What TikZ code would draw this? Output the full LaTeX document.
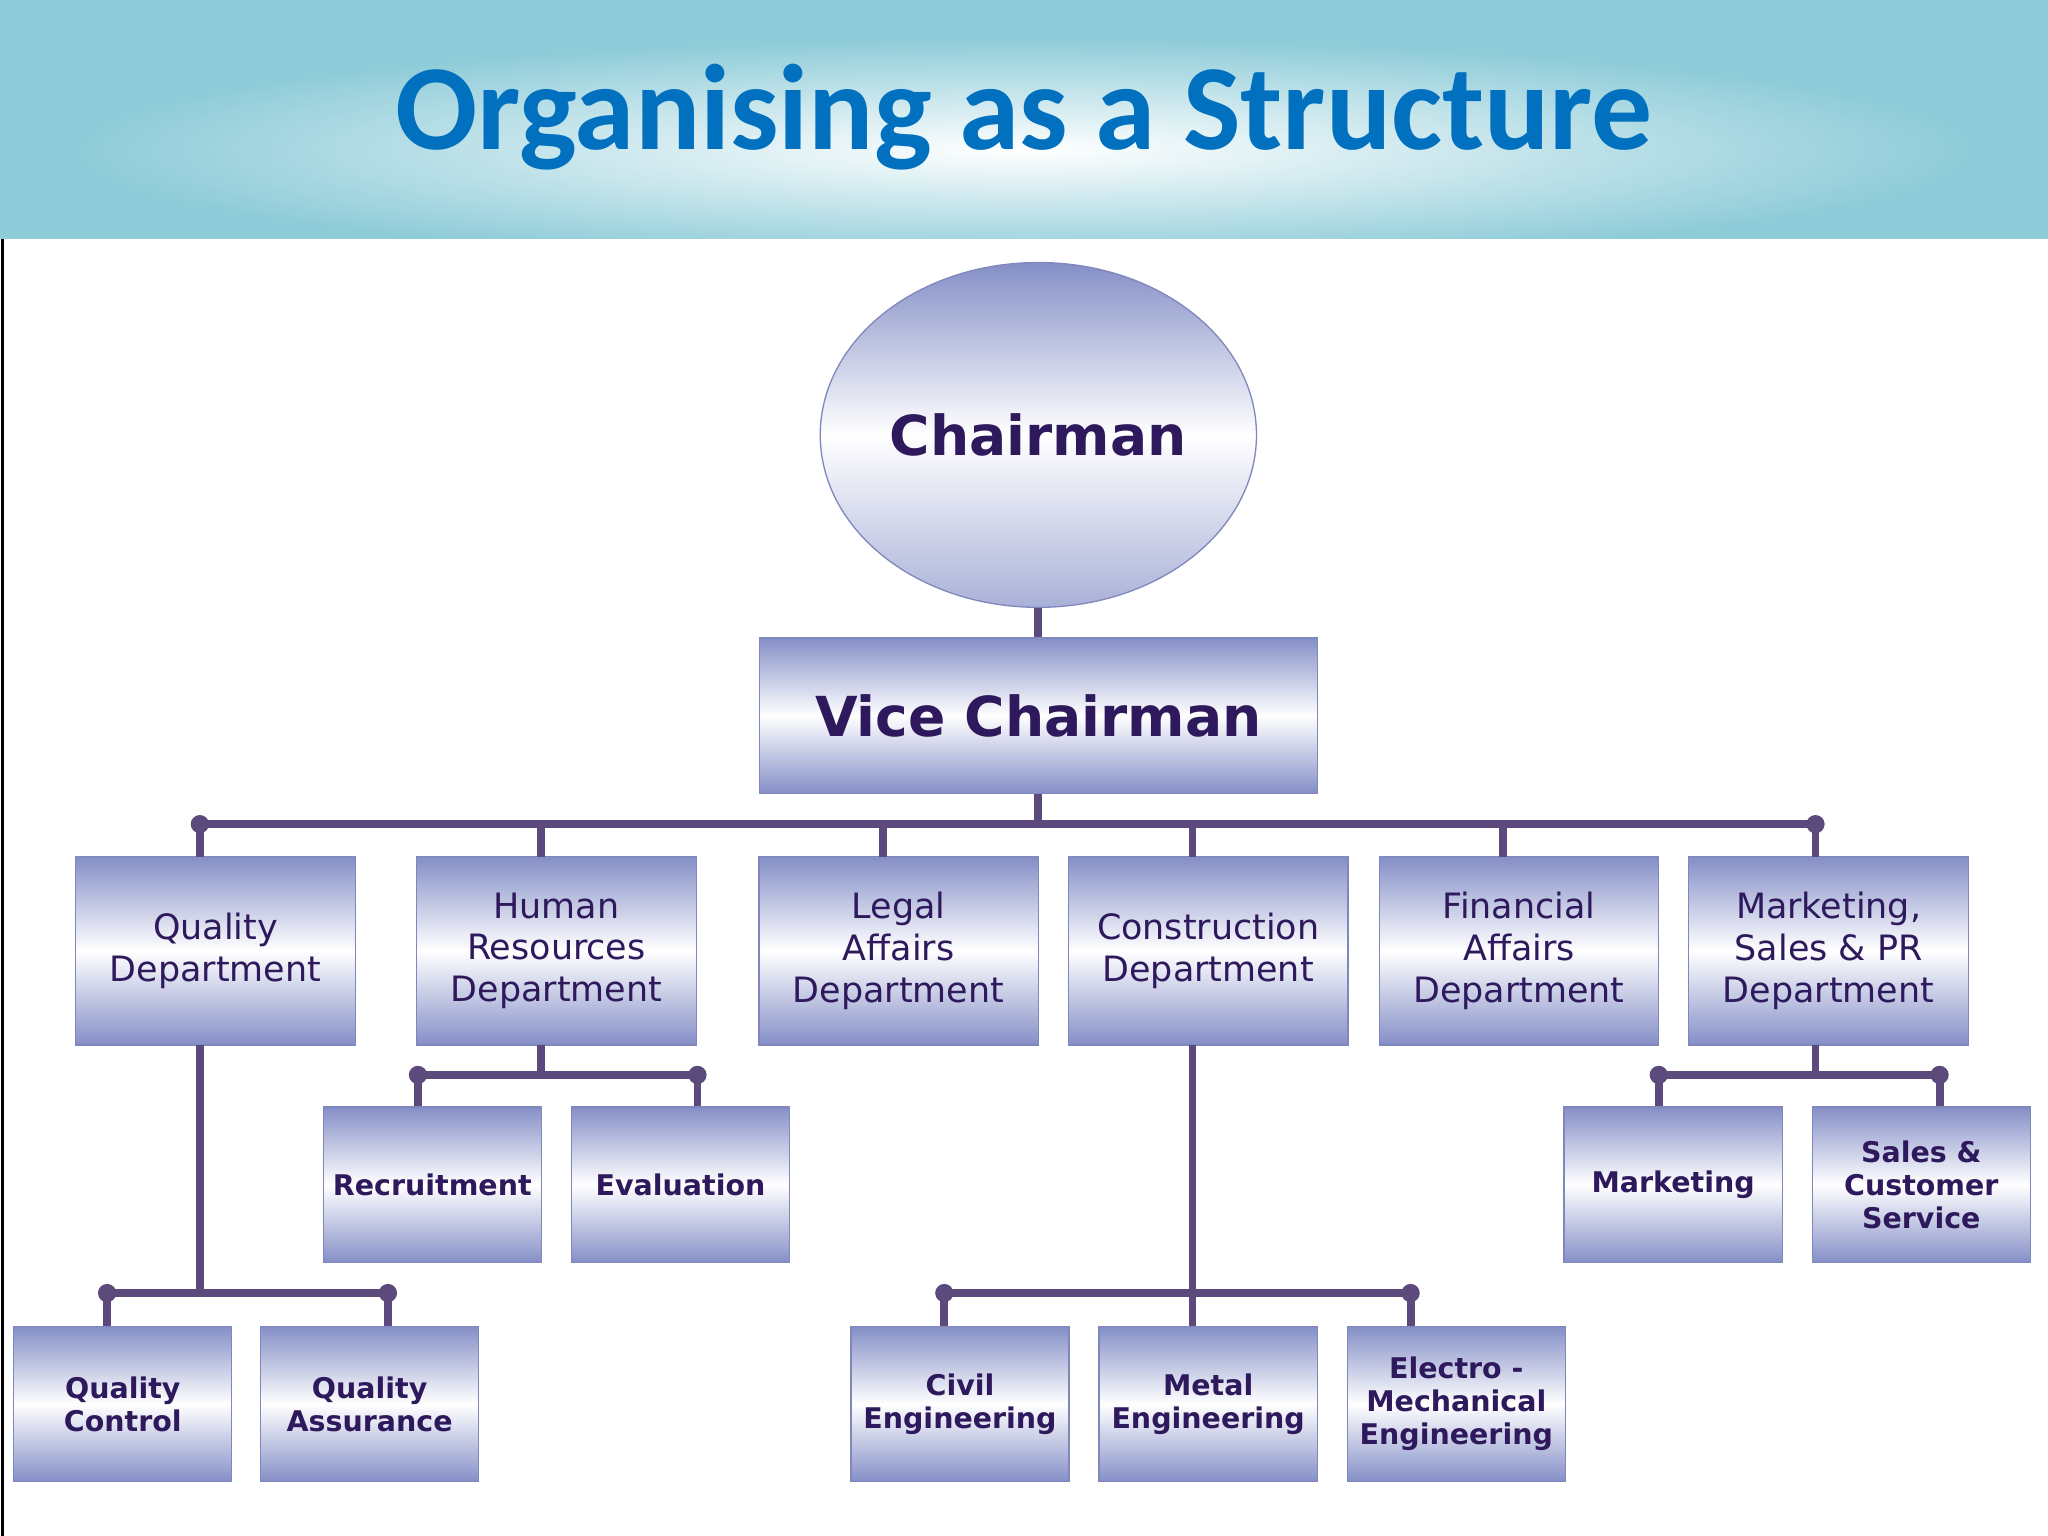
\documentclass[tikz,border=0pt]{standalone}
\usepackage{fontspec}
\setmainfont{DejaVu Sans}
\newfontfamily\titlefont{Carlito}
\usetikzlibrary{shapes.geometric}
\definecolor{linecol}{rgb}{0.36,0.29,0.49}
\definecolor{boxedge}{rgb}{0.50,0.53,0.74}
\definecolor{boxdark}{rgb}{0.52,0.56,0.78}
\definecolor{textcol}{rgb}{0.18,0.10,0.36}
\definecolor{titlecol}{rgb}{0.00,0.44,0.75}
\definecolor{bandcol}{rgb}{0.56,0.80,0.85}
\newlength{\du}
\setlength{\du}{0.01cm}
\tikzset{
  orgbox/.style={draw=boxedge, line width=1\du, top color=boxdark, bottom color=boxdark,
    middle color=white, shading angle=0, text=textcol, align=center, inner sep=0pt},
  deptbox/.style={orgbox, minimum width=214\du, minimum height=144\du, font=\fontsize{7.6}{9.1}\selectfont},
  subbox/.style={orgbox, minimum width=167\du, minimum height=119\du, font=\bfseries\fontsize{6.2}{7.2}\selectfont},
  link/.style={draw=linecol, line width=6\du},
  dot/.style={circle, fill=linecol, inner sep=0pt, minimum size=14\du}
}
\begin{document}
\begin{tikzpicture}[yscale=-1]
\useasboundingbox (0,0) rectangle (1568\du,1176\du);
% header band
\fill[bandcol] (0,0) rectangle (1568\du,183\du);
\shade[inner color=white, outer color=bandcol] (60\du,30\du) rectangle (1508\du,200\du);
\fill[white] (0,183\du) rectangle (1568\du,1176\du);
\draw[black, line width=2\du] (2\du,183\du) -- (2\du,1176\du);
\node[text=titlecol, font=\titlefont\bfseries\fontsize{26.5}{30}\selectfont] (title) at (784\du,90\du) {Organising as a Structure};
% top of the tree
\node[ellipse, draw=boxedge, line width=1\du, top color=boxdark, bottom color=boxdark!70, middle color=white,
  inner sep=0pt, minimum width=334\du, minimum height=264\du, text=textcol, font=\bfseries\fontsize{12}{14}\selectfont] (chair) at (795\du,333\du) {Chairman};
\node[orgbox, minimum width=427\du, minimum height=119\du, font=\bfseries\fontsize{12}{14}\selectfont] (vice) at (795\du,548\du) {Vice Chairman};
% departments
\node[deptbox] (qual) at (165\du,728\du) {Quality\\Department};
\node[deptbox] (hr) at (426\du,728\du) {Human\\Resources\\Department};
\node[deptbox] (legal) at (688\du,728\du) {Legal\\Affairs\\Department};
\node[deptbox] (constr) at (925\du,728\du) {Construction\\Department};
\node[deptbox] (fin) at (1163\du,728\du) {Financial\\Affairs\\Department};
\node[deptbox] (mkt) at (1400\du,728\du) {Marketing,\\Sales \& PR\\Department};
% sub units
\node[subbox] (recr) at (331\du,907\du) {Recruitment};
\node[subbox] (eval) at (521\du,907\du) {Evaluation};
\node[subbox] (mark) at (1281\du,907\du) {Marketing};
\node[subbox] (sales) at (1471\du,907\du) {Sales \&\\Customer\\Service};
\node[subbox] (qc) at (94\du,1075\du) {Quality\\Control};
\node[subbox] (qa) at (283\du,1075\du) {Quality\\Assurance};
\node[subbox] (civil) at (735\du,1075\du) {Civil\\Engineering};
\node[subbox] (metal) at (925\du,1075\du) {Metal\\Engineering};
\node[subbox] (electro) at (1115\du,1075\du) {Electro -\\Mechanical\\Engineering};
% bus ends
\coordinate (busL) at (153\du,631\du);
\coordinate (busR) at (1390\du,631\du);
\coordinate (hrL) at (320\du,823\du);
\coordinate (hrR) at (534\du,823\du);
\coordinate (mkL) at (1270\du,823\du);
\coordinate (mkR) at (1485\du,823\du);
\coordinate (qL) at (82\du,990\du);
\coordinate (qR) at (297\du,990\du);
\coordinate (cL) at (723\du,990\du);
\coordinate (cR) at (1080\du,990\du);
% connectors
\draw[link] (chair.south) -- (vice.north);
\draw[link] (vice.south) -- (vice.south |- busL);
\draw[link] (busL) -- (busR);
\foreach \x in {153, 414, 676, 913, 1151, 1390}
  \draw[link] (\x\du,631\du) -- (\x\du,656\du);
\draw[link] (414\du,800\du) -- (414\du,823\du);
\draw[link] (hrL) -- (hrR);
\draw[link] (hrL) -- (hrL |- recr.north);
\draw[link] (hrR) -- (hrR |- eval.north);
\draw[link] (1390\du,800\du) -- (1390\du,823\du);
\draw[link] (mkL) -- (mkR);
\draw[link] (mkL) -- (mkL |- mark.north);
\draw[link] (mkR) -- (mkR |- sales.north);
\draw[link] (153\du,800\du) -- (153\du,990\du);
\draw[link] (qL) -- (qR);
\draw[link] (qL) -- (qL |- qc.north);
\draw[link] (qR) -- (qR |- qa.north);
\draw[link] (913\du,800\du) -- (913\du,1015\du);
\draw[link] (cL) -- (cR);
\draw[link] (cL) -- (cL |- civil.north);
\draw[link] (cR) -- (cR |- electro.north);
\foreach \c in {busL, busR, hrL, hrR, mkL, mkR, qL, qR, cL, cR}
  \node[dot] at (\c) {};
\end{tikzpicture}
\end{document}
